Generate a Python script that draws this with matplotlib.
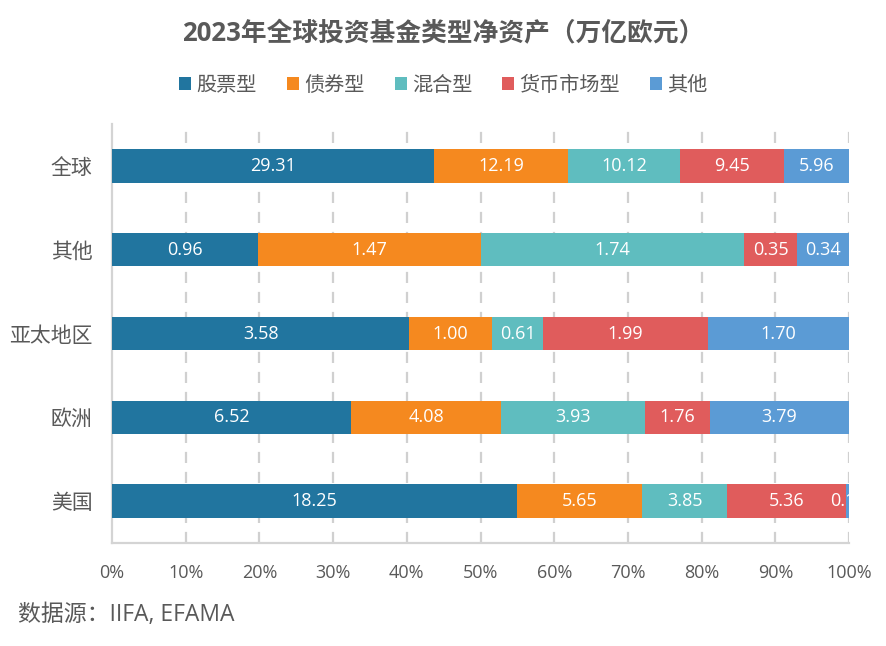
import numpy as np
import matplotlib
matplotlib.use('Agg')
import matplotlib.pyplot as plt

plt.rcParams['font.family'] = ['Open Sans', 'Noto Sans CJK SC', 'DejaVu Sans']

# Data (trillion EUR), top-to-bottom order as shown
regions = ['全球', '其他', '亚太地区', '欧洲', '美国']
series = ['股票型', '债券型', '混合型', '货币市场型', '其他']
stock = [29.31, 0.96, 3.58, 6.52, 18.25]
bond = [12.19, 1.47, 1.00, 4.08, 5.65]
mixed = [10.12, 1.74, 0.61, 3.93, 3.85]
money = [9.45, 0.35, 1.99, 1.76, 5.36]
other = [5.96, 0.34, 1.70, 3.79, 0.13]

colors = ['#21759f', '#f5891f', '#5fbdbf', '#e05c5c', '#5b9bd5']
TXT = '#595959'

vals = np.array([stock, bond, mixed, money, other], dtype=float)
shares = vals / vals.sum(axis=0)

fig = plt.figure(figsize=(8.87, 6.46), dpi=100)
ax = fig.add_axes([0.1263, 0.1594, 0.8309, 0.6486])

y = np.arange(len(regions))
left = np.zeros(len(regions))
for k, name in enumerate(series):
    ax.barh(y, shares[k], left=left, height=0.4, color=colors[k],
            label=name, zorder=3)
    for i in range(len(regions)):
        ax.text(left[i] + shares[k][i] / 2, y[i], f'{vals[k][i]:.2f}',
                ha='center', va='center', color='white', fontsize=13,
                zorder=4, clip_on=True)
    left += shares[k]

ax.set_xlim(0, 1)
ax.set_ylim(len(regions) - 0.5, -0.5)
ax.set_yticks(y)
ax.set_yticklabels(regions, fontsize=15, color=TXT)
ax.set_xticks(np.linspace(0, 1, 11))
ax.set_xticklabels([f'{i*10}%' for i in range(11)], fontsize=13, color=TXT)
ax.tick_params(axis='both', length=0)
ax.tick_params(axis='x', pad=15)
ax.tick_params(axis='y', pad=14)

for xv in np.linspace(0.1, 1, 10):
    ax.axvline(xv, color='#d0d0d0', lw=1.6, ls=(0, (5, 4)), zorder=1)

for s in ['top', 'right']:
    ax.spines[s].set_visible(False)
for s in ['left', 'bottom']:
    ax.spines[s].set_color('#d4d4d4')
    ax.spines[s].set_linewidth(1.6)

fig.text(0.5, 0.948, '2023年全球投资基金类型净资产（万亿欧元）', ha='center',
         va='center', fontsize=18.5, fontweight='bold', color=TXT)

fig.legend(loc='center', bbox_to_anchor=(0.5, 0.867), ncol=5, frameon=False,
           fontsize=14.5, handlelength=0.6, handleheight=0.6, handletextpad=0.25,
           columnspacing=1.5, labelcolor=TXT)

fig.text(0.02, 0.048, '数据源：IIFA, EFAMA', ha='left', va='center',
         fontsize=16.5, color=TXT)

fig.savefig('out.png', dpi=100)
